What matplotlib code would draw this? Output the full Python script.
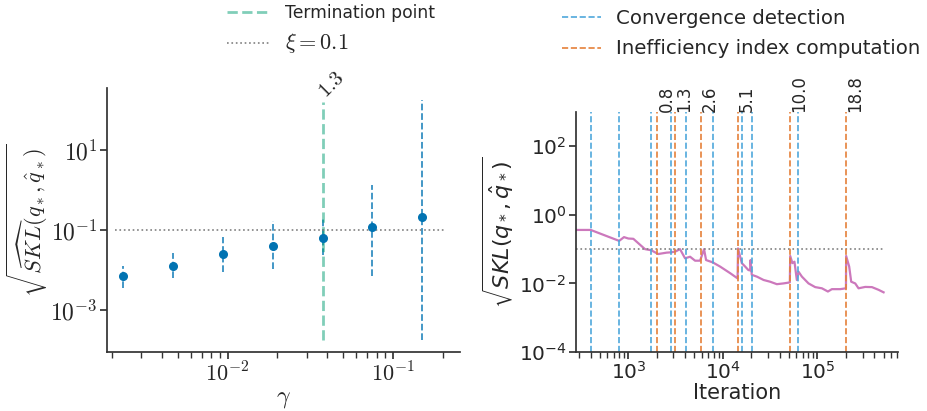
import numpy as np
import matplotlib
matplotlib.use("Agg")
import matplotlib.pyplot as plt
from matplotlib.ticker import LogLocator, NullLocator
from matplotlib.font_manager import FontProperties

# colorblind palette
BLUE = "#0173B2"
ORANGE = "#E5803A"
GREEN = "#029E73"
PURPLE = "#CC78BC"
LIGHTBLUE = "#4FA8DC"

# --- left: final error vs step size ---
gammas = [0.15 / 2**k for k in range(6, -1, -1)]
skl_mean = [0.0071, 0.0127, 0.0246, 0.040, 0.063, 0.118, 0.209]
skl_lower = [0.0036, 0.0062, 0.0090, 0.0105, 0.0237, 0.0071, 0.000178]
skl_upper = [0.0126, 0.0269, 0.0676, 0.168, 0.195, 1.33, 178.0]
gamma_stop = 0.0375
stop_label = "1.3"
xi = 0.1

# --- right: one run vs iteration ---
iters = [280, 400, 800, 900, 1000, 1130, 1500, 1740, 2070, 2540, 2880, 3200,
         3520, 3980, 4500, 5080, 5740, 6320, 6640, 7820, 9340, 11900, 14300,
         14450, 15850, 17000, 18600, 19400, 19600, 20200, 22850, 26900, 31600,
         37200, 43700, 51000, 51500, 54300, 57100, 60500, 63000, 68400, 80400,
         94600, 111400, 128900, 142000, 174000, 200000, 201000, 216400, 227300,
         250600, 271700, 319700, 376500, 442600, 500000]
skl_run = [0.363, 0.363, 0.174, 0.224, 0.204, 0.200, 0.100, 0.093, 0.072,
           0.079, 0.081, 0.087, 0.100, 0.054, 0.060, 0.046, 0.046, 0.100,
           0.048, 0.041, 0.031, 0.020, 0.014, 0.105, 0.039, 0.032, 0.0245,
           0.024, 0.048, 0.0178, 0.0158, 0.0126, 0.0112, 0.0095, 0.0100,
           0.0107, 0.063, 0.039, 0.043, 0.0126, 0.022, 0.0158, 0.0100, 0.0078,
           0.0072, 0.0058, 0.0068, 0.0068, 0.0072, 0.063, 0.031, 0.0112,
           0.0100, 0.0072, 0.0079, 0.0078, 0.0065, 0.0055]
conv_iters = [400, 800, 1730, 2810, 4080, 7850, 15750, 20200, 62000]
ineff_iters = [2030, 3130, 5820, 14400, 51000, 200500]
ineff_labels = ["0.8", "1.3", "2.6", "5.1", "10.0", "18.8"]

plt.rcParams.update({
    "axes.edgecolor": "0.2",
    "axes.linewidth": 1.25,
    "text.color": "0.15",
    "axes.labelcolor": "0.15",
    "xtick.color": "0.2",
    "ytick.color": "0.2",
    "xtick.labelcolor": "0.15",
    "ytick.labelcolor": "0.15",
    "xtick.major.size": 5,
    "ytick.major.size": 5,
    "xtick.minor.size": 4,
    "xtick.major.width": 1.25,
    "ytick.major.width": 1.25,
    "xtick.minor.width": 1.0,
    "xtick.major.pad": 1.5,
    "ytick.major.pad": 2.0,
    "mathtext.fontset": "dejavusans",
})

fig = plt.figure(figsize=(9.27, 4.11), dpi=100)
ax1 = fig.add_axes([0.1154, 0.1436, 0.3806, 0.6424])
ax2 = fig.add_axes([0.6214, 0.1436, 0.3473, 0.5839])

# left panel
yerr = [np.array(skl_mean) - np.array(skl_lower),
        np.array(skl_upper) - np.array(skl_mean)]
eb = ax1.errorbar(gammas, skl_mean, yerr=yerr, fmt="o", color=BLUE,
                  markersize=5.5, elinewidth=1.3, ecolor=BLUE, capsize=0)
eb[2][0].set_linestyle("--")
eb[2][0].set_alpha(0.8)
ax1.set_xscale("log")
ax1.set_yscale("log")
ax1.set_xlim(0.00187, 0.253)
ax1.set_ylim(10**-4.05, 10**2.55)
lo, hi = 10**-3.75, 10**2.2
ax1.vlines(gamma_stop, lo, hi, colors=GREEN, alpha=0.5, linestyles="--",
           linewidth=2, label="Termination point")
ax1.text(gamma_stop * 1.09, hi * 1.05, "$" + stop_label + "$", rotation=45,
         rotation_mode="anchor", ha="left", va="bottom", fontsize=15,
         math_fontfamily="cm")
ax1.hlines(xi, 0.0021, 0.204, colors="0.5", linestyles=":", linewidth=1.2,
           label=r"$\xi = 0.1$")
ax1.set_xticks([0.01, 0.1], labels=[r"$10^{-2}$", r"$10^{-1}$"],
               math_fontfamily="cm", fontsize=16)
ax1.set_yticks([10.0, 0.1, 0.001],
               labels=[r"$10^{1}$", r"$10^{-1}$", r"$10^{-3}$"],
               math_fontfamily="cm", fontsize=17)
ax1.yaxis.set_minor_locator(NullLocator())
ax1.set_xlabel(r"$\gamma$", fontsize=17, math_fontfamily="cm", labelpad=1)
ax1.set_ylabel(r"$\sqrt{\widehat{SKL}(q_*,\hat{q}_*)}$", fontsize=16,
               math_fontfamily="cm", labelpad=0)

# right panel
ax2.plot(iters, skl_run, color=PURPLE, linewidth=1.6)
ax2.hlines(xi, iters[0], iters[-1], colors="0.5", linestyles=":", linewidth=1.2)
for i, c in enumerate(conv_iters):
    ax2.axvline(c, color=LIGHTBLUE, linestyle="--", linewidth=1.2,
                label="Convergence detection" if i == 0 else None)
for i, (c, lab) in enumerate(zip(ineff_iters, ineff_labels)):
    ax2.axvline(c, color=ORANGE, linestyle="--", linewidth=1.2,
                label="Inefficiency index computation" if i == 0 else None)
    ax2.text(c, 1000, lab, rotation=90, ha="left", va="bottom", fontsize=12)
ax2.set_xscale("log")
ax2.set_yscale("log")
ax2.set_xlim(280, 7.1e5)
ax2.set_ylim(1e-4, 1e3)
ax2.yaxis.set_major_locator(LogLocator(base=100.0))
ax2.yaxis.set_minor_locator(NullLocator())
ax2.tick_params(labelsize=14.5)
ax2.set_xlabel("Iteration", fontsize=15, labelpad=0)
ax2.set_ylabel(r"$\sqrt{SKL(q_*,\hat{q}_*)}$", fontsize=16, labelpad=2)

for ax in (ax1, ax2):
    ax.spines["top"].set_visible(False)
    ax.spines["right"].set_visible(False)

leg_font = FontProperties(family="DejaVu Sans", size=12.3, math_fontfamily="cm")
leg1 = fig.legend(*ax1.get_legend_handles_labels(), loc="upper left",
                  bbox_to_anchor=(0.2449, 0.991), frameon=False, prop=leg_font,
                  borderpad=0, borderaxespad=0, handlelength=2.6,
                  labelspacing=0.55)
leg1.get_texts()[1].set_fontsize(16)
fig.legend(*ax2.get_legend_handles_labels(), loc="upper left",
           bbox_to_anchor=(0.606, 0.979), frameon=False, fontsize=14.2,
           borderpad=0, borderaxespad=0, handlelength=2.0, handletextpad=0.75,
           labelspacing=0.6)

fig.savefig("out.png", dpi=100)
